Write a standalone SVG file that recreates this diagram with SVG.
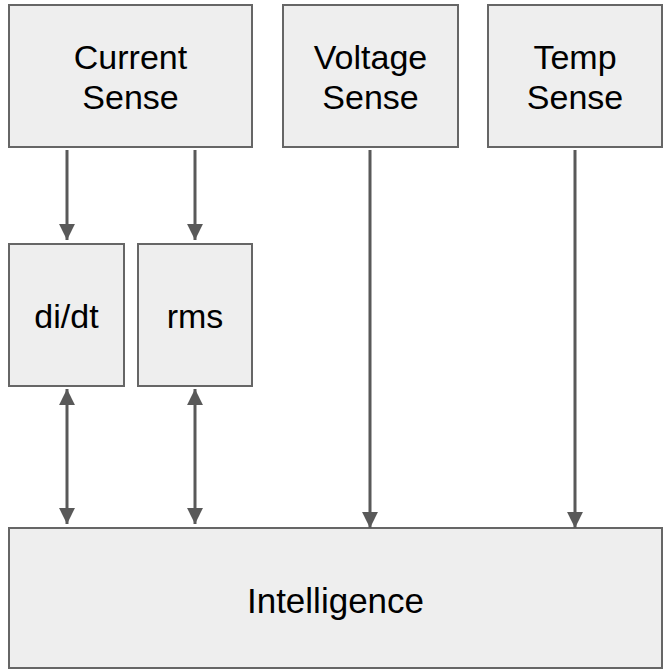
<svg xmlns="http://www.w3.org/2000/svg" width="664" height="670" viewBox="0 0 664 670">
  <style>
    .box { fill: #eeeeee; stroke: #666666; stroke-width: 2; }
    .lbl { font-family: "Liberation Sans", Arial, sans-serif; font-size: 34px; fill: #000000; text-anchor: middle; }
    .big { font-size: 35px; }
    .wire { stroke: #595959; stroke-width: 3; fill: none; }
  </style>
  <defs>
    <marker id="head" viewBox="0 0 10 10" refX="10" refY="5" markerWidth="5.3" markerHeight="5.3" markerUnits="strokeWidth" orient="auto-start-reverse">
      <path d="M0,0 L10,5 L0,10 Z" fill="#595959"/>
    </marker>
  </defs>

  <rect width="664" height="670" fill="#ffffff"/>

  <g id="current-sense">
    <rect class="box" x="9" y="5" width="243" height="142"/>
    <text class="lbl" x="130.5" y="69">Current</text>
    <text class="lbl" x="130.5" y="109">Sense</text>
  </g>
  <g id="voltage-sense">
    <rect class="box" x="283" y="5" width="175" height="142"/>
    <text class="lbl" x="370.5" y="69">Voltage</text>
    <text class="lbl" x="370.5" y="109">Sense</text>
  </g>
  <g id="temp-sense">
    <rect class="box" x="488" y="5" width="174" height="142"/>
    <text class="lbl" x="575" y="69">Temp</text>
    <text class="lbl" x="575" y="109">Sense</text>
  </g>
  <g id="didt">
    <rect class="box" x="9" y="244" width="115" height="142"/>
    <text class="lbl" x="66.5" y="328">di/dt</text>
  </g>
  <g id="rms">
    <rect class="box" x="138" y="244" width="114" height="142"/>
    <text class="lbl" x="195" y="328">rms</text>
  </g>
  <g id="intelligence">
    <rect class="box" x="9" y="528" width="653" height="140"/>
    <text class="lbl big" x="335.5" y="613">Intelligence</text>
  </g>

  <g id="connectors">
    <line class="wire" x1="67" y1="150" x2="67" y2="240" marker-end="url(#head)"/>
    <line class="wire" x1="195" y1="150" x2="195" y2="240" marker-end="url(#head)"/>
    <line class="wire" x1="67" y1="389" x2="67" y2="524" marker-start="url(#head)" marker-end="url(#head)"/>
    <line class="wire" x1="195" y1="389" x2="195" y2="524" marker-start="url(#head)" marker-end="url(#head)"/>
    <line class="wire" x1="370" y1="150" x2="370" y2="528" marker-end="url(#head)"/>
    <line class="wire" x1="575" y1="150" x2="575" y2="528" marker-end="url(#head)"/>
  </g>
</svg>
